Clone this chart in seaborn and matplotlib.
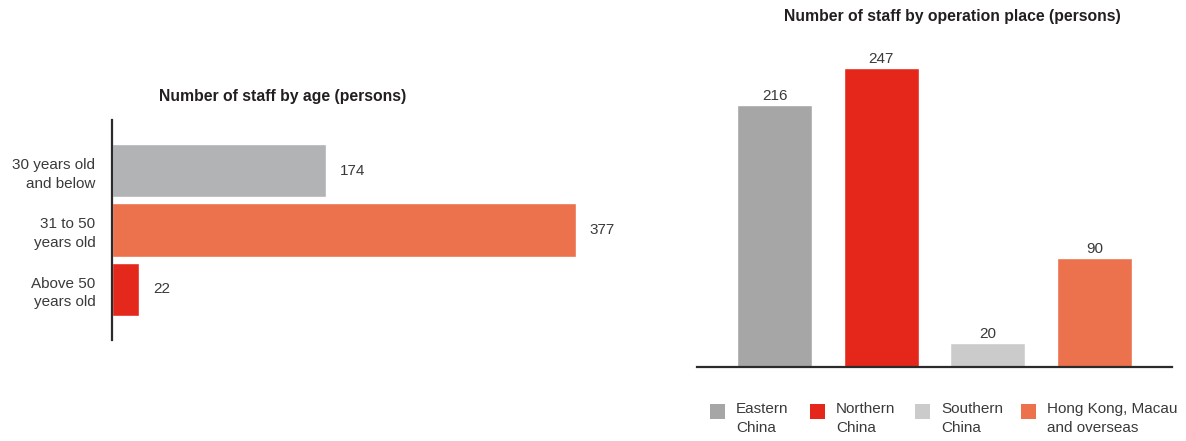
import pandas as pd
import matplotlib.pyplot as plt
import seaborn as sns
from matplotlib.patches import Rectangle

# data
age_groups = ["30 years old\nand below", "31 to 50\nyears old", "Above 50\nyears old"]
age_staff = [174, 377, 22]
age_colors = ["#B2B3B5", "#EC714D", "#E5281C"]

places = ["Eastern\nChina", "Northern\nChina", "Southern\nChina", "Hong Kong, Macau\nand overseas"]
place_staff = [216, 247, 20, 90]
place_colors = ["#A6A6A6", "#E5271B", "#CBCBCB", "#EC714D"]

TXT = "#3A3A3A"

sns.set_theme(style="white")
plt.rcParams["font.family"] = ["Liberation Sans", "DejaVu Sans"]

W, H = 1186, 441
fig = plt.figure(figsize=(W / 100, H / 100), dpi=100)


def fx(px):
    return px / W


def fy(py):
    return 1 - py / H


# left chart: staff by age
ax1 = fig.add_axes([fx(112), fy(340), fx(620) - fx(112), fy(120) - fy(340)])
df_age = pd.DataFrame({"group": age_groups, "staff": age_staff})
sns.barplot(data=df_age, y="group", x="staff", hue="group", palette=age_colors,
            legend=False, width=0.9, saturation=1, ax=ax1)
for c in ax1.containers:
    ax1.bar_label(c, padding=10, fontsize=11, color=TXT)
ax1.set_xlim(0, 413)
ax1.set_ylim(2.86, -0.86)
ax1.set_xlabel("")
ax1.set_ylabel("")
ax1.set_xticks([])
ax1.tick_params(axis="y", length=0, pad=12, labelsize=11, labelcolor=TXT)
for lab in ax1.get_yticklabels():
    lab.set_linespacing(1.4)
for s in ["top", "right", "bottom"]:
    ax1.spines[s].set_visible(False)
ax1.spines["left"].set_color("#2B2B2B")
ax1.spines["left"].set_linewidth(1.6)
fig.text(fx(283), fy(96), "Number of staff by age (persons)", ha="center", va="center",
         fontsize=11.3, fontweight="bold", color="#231F20")

# right chart: staff by operation place
ax2 = fig.add_axes([fx(697), fy(367), fx(1172) - fx(697), fy(40) - fy(367)])
df_place = pd.DataFrame({"place": places, "staff": place_staff})
sns.barplot(data=df_place, x="place", y="staff", hue="place", palette=place_colors,
            legend=False, width=0.7, saturation=1, ax=ax2)
for c in ax2.containers:
    ax2.bar_label(c, padding=1.5, fontsize=11, color=TXT)
ax2.set_xlim(-0.73, 3.73)
ax2.set_ylim(0, 270)
ax2.set_xlabel("")
ax2.set_ylabel("")
ax2.set_xticks([])
ax2.set_yticks([])
for s in ["top", "right", "left"]:
    ax2.spines[s].set_visible(False)
ax2.spines["bottom"].set_color("#2B2B2B")
ax2.spines["bottom"].set_linewidth(1.6)
fig.text(fx(952), fy(16), "Number of staff by operation place (persons)", ha="center",
         va="center", fontsize=11.3, fontweight="bold", color="#231F20")

# legend drawn by hand so the squares line up with the first text line
sq_x = [710, 810, 915, 1021]
for x0, lab, col in zip(sq_x, places, place_colors):
    fig.add_artist(Rectangle((fx(x0), fy(419)), fx(15), fy(404) - fy(419),
                             transform=fig.transFigure, color=col, lw=0))
    fig.text(fx(x0 + 26), fy(402), lab, ha="left", va="top", fontsize=11,
             color=TXT, linespacing=1.45)

fig.savefig("out.png", dpi=100)
